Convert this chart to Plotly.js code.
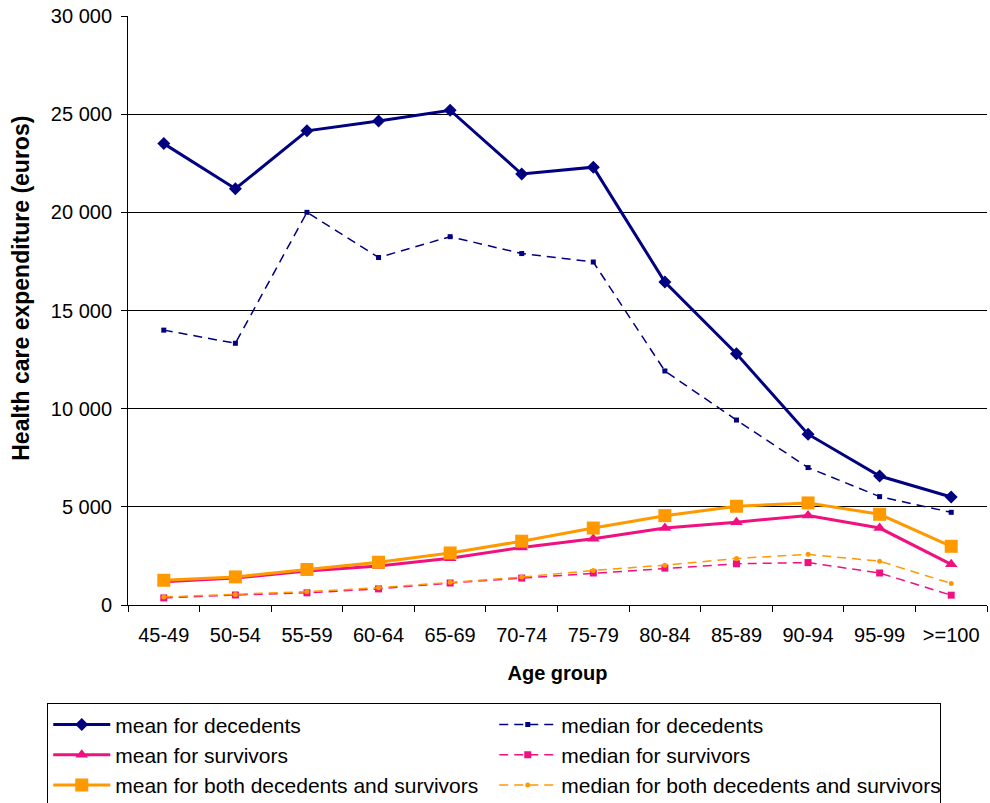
<!DOCTYPE html>
<html>
<head>
<meta charset="utf-8">
<script src="https://cdn.plot.ly/plotly-3.0.1.min.js"></script>
<style>
  html, body { margin: 0; padding: 0; background: #fff; overflow: hidden; }
  #chart { width: 990px; height: 815px; }
</style>
</head>
<body>
<div id="chart"></div>
<script>
// Age groups on the x axis
const ageGroups = ['45-49', '50-54', '55-59', '60-64', '65-69', '70-74',
                   '75-79', '80-84', '85-89', '90-94', '95-99', '>=100'];

// Health care expenditure per person (euros)
const meanDecedents   = [23500, 21200, 24150, 24650, 25200, 21950, 22300, 16450, 12800, 8700, 6570, 5500];
const medianDecedents = [14000, 13330, 20000, 17700, 18760, 17900, 17470, 11920, 9420, 7000, 5520, 4720];
const meanSurvivors   = [1180, 1380, 1730, 1990, 2380, 2930, 3380, 3920, 4220, 4560, 3920, 2070];
const medianSurvivors = [360, 510, 620, 820, 1120, 1370, 1630, 1880, 2100, 2160, 1630, 500];
const meanBoth        = [1260, 1430, 1810, 2180, 2650, 3250, 3920, 4550, 5030, 5200, 4620, 2990];
const medianBoth      = [410, 530, 680, 880, 1160, 1420, 1760, 2030, 2370, 2580, 2230, 1100];

// Y-axis ticks with a space as thousands separator
const yTickVals = [0, 5000, 10000, 15000, 20000, 25000, 30000];
const yTickText = ['0', '5 000', '10 000', '15 000', '20 000', '25 000', '30 000'];

const NAVY = '#000080';
const PINK = '#f0107f';
const ORANGE = '#ff9900';
const FONT = 'Arial, "Liberation Sans", sans-serif';

function series(name, y, color, width, dash, symbol, size) {
  return {
    type: 'scatter', mode: 'lines+markers', name: name,
    x: ageGroups, y: y,
    line: { color: color, width: width, dash: dash },
    marker: { color: color, symbol: symbol, size: size, line: { width: 0 } },
    hoverinfo: 'x+y+name'
  };
}

// Legend fills left to right, so alternate mean / median to get two columns
const traces = [
  series('mean for decedents', meanDecedents, NAVY, 3, 'solid', 'diamond', 10),
  series('median for decedents', medianDecedents, NAVY, 1.5, '9px,6px', 'square', 5),
  series('mean for survivors', meanSurvivors, PINK, 3, 'solid', 'triangle-up', 11),
  series('median for survivors', medianSurvivors, PINK, 1.5, '9px,6px', 'square', 7),
  series('mean for both decedents and survivors', meanBoth, ORANGE, 3, 'solid', 'square', 13),
  series('median for both decedents and survivors', medianBoth, ORANGE, 1.5, '9px,6px', 'circle', 5)
];

// The figure runs a little past the window bottom, so the legend frame's
// lower edge falls outside the visible area.
const layout = {
  width: 990, height: 815,
  margin: { l: 128, r: 3, t: 16, b: 210 },
  paper_bgcolor: '#fff', plot_bgcolor: '#fff',
  font: { family: FONT, size: 20, color: '#000' },
  showlegend: true,
  xaxis: {
    type: 'category',
    range: [-0.5, 11.5],
    showgrid: false, zeroline: false,
    showline: true, linecolor: '#000', linewidth: 1,
    ticks: 'outside', tickson: 'boundaries', ticklen: 6, tickcolor: '#000',
    ticklabelstandoff: 12,
    tickfont: { family: FONT, size: 20 },
    title: { text: '<b>Age group</b>', font: { family: FONT, size: 20 }, standoff: 20 }
  },
  yaxis: {
    range: [0, 30000],
    tickvals: yTickVals, ticktext: yTickText,
    showgrid: true, gridcolor: '#000', gridwidth: 1,
    zeroline: false,
    showline: true, linecolor: '#000', linewidth: 1,
    ticks: 'outside', ticklen: 6, tickcolor: '#000',
    ticklabelstandoff: 5,
    tickfont: { family: FONT, size: 20 }
  },
  annotations: [{
    text: '<b>Health care expenditure (euros)</b>',
    textangle: -90,
    xref: 'paper', yref: 'paper',
    x: -0.125, y: 0.538,
    xanchor: 'center', yanchor: 'middle',
    showarrow: false,
    font: { family: FONT, size: 23 }
  }],
  legend: {
    orientation: 'h',
    x: -0.094, xanchor: 'left',
    y: -0.167, yanchor: 'top',
    bordercolor: '#000', borderwidth: 1,
    bgcolor: '#fff',
    itemwidth: 57,
    entrywidth: 374, entrywidthmode: 'pixels',
    font: { family: FONT, size: 21 },
    traceorder: 'normal'
  }
};

Plotly.newPlot('chart', traces, layout, { displayModeBar: false, staticPlot: true });
</script>
</body>
</html>
